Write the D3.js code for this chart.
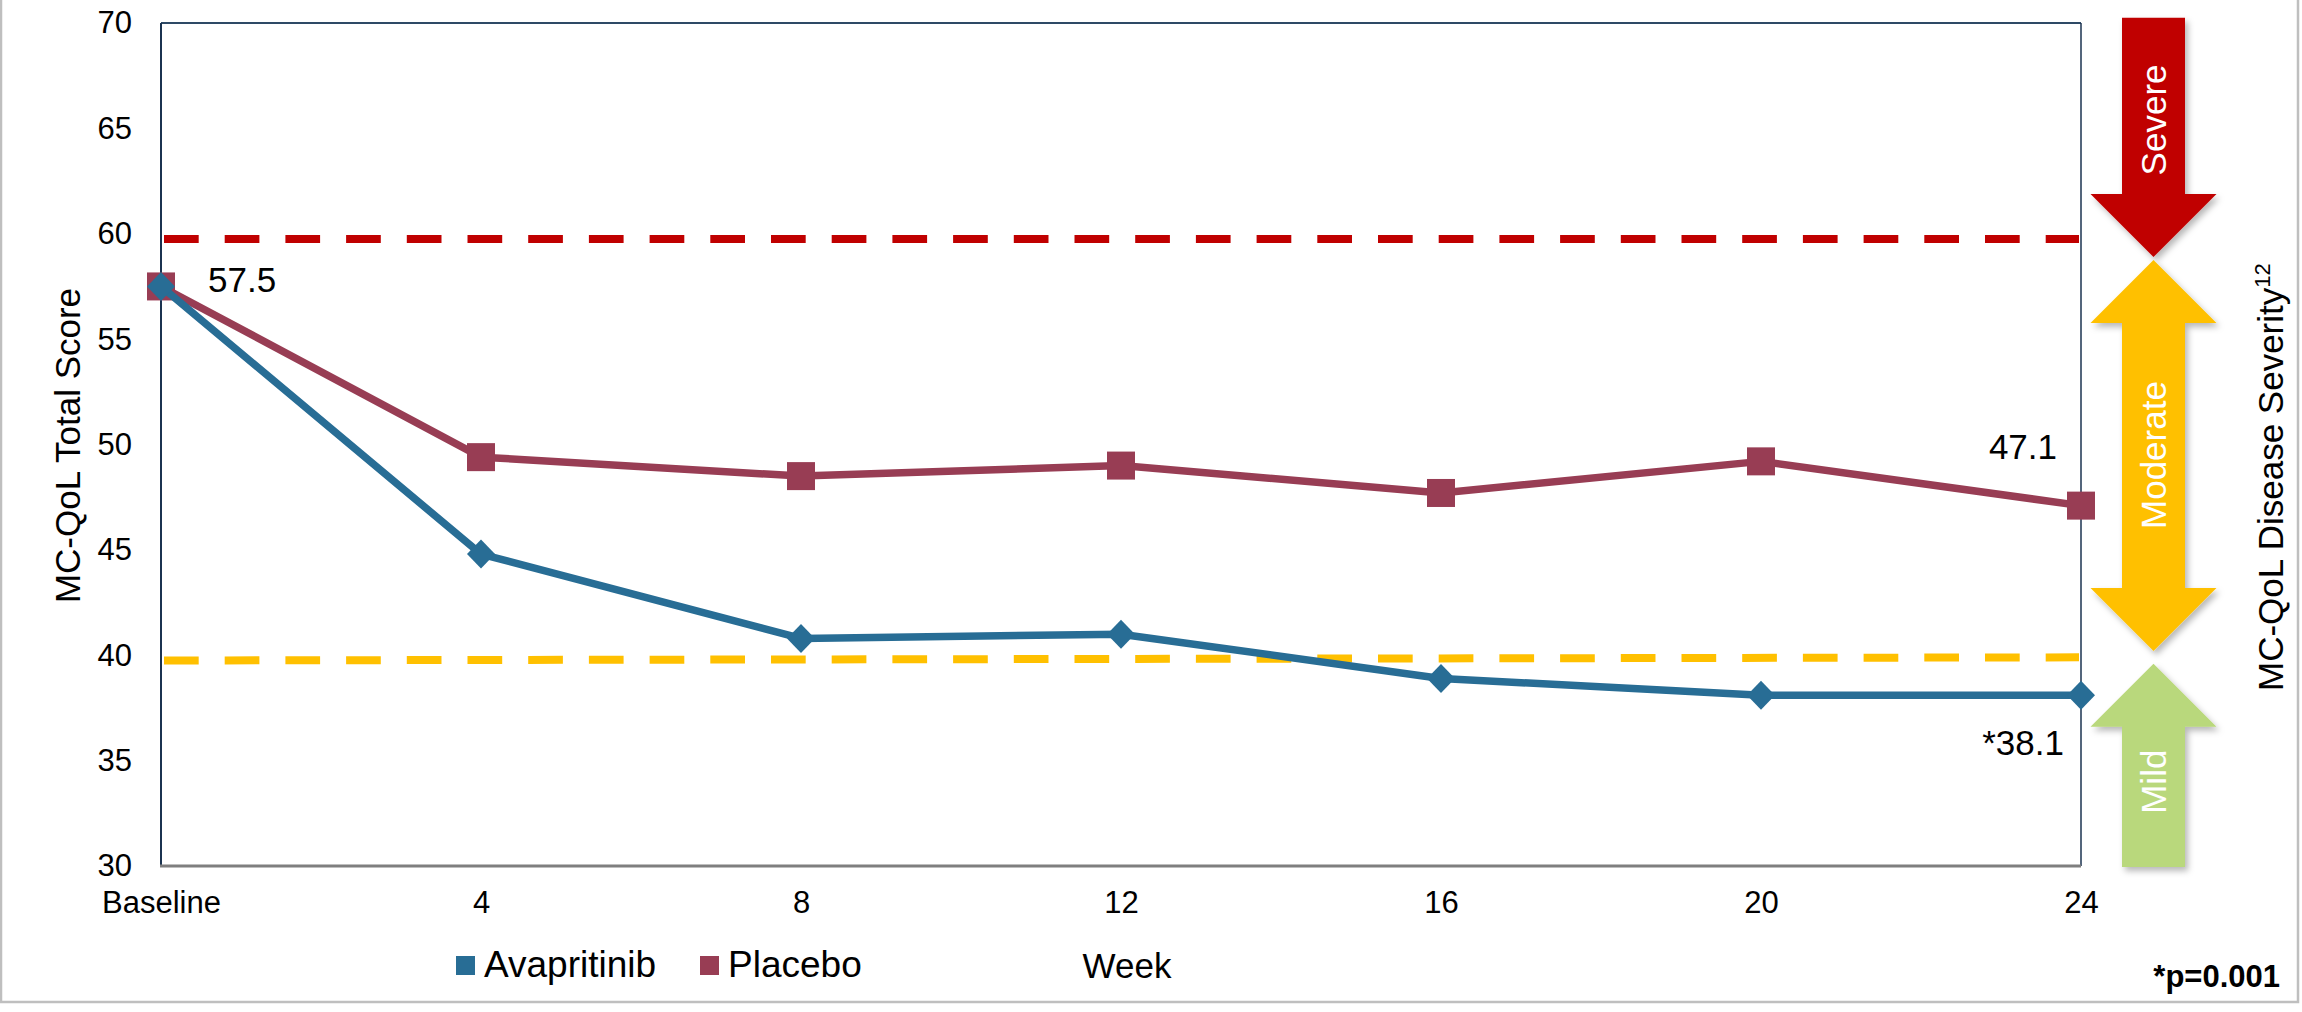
<!DOCTYPE html>
<html>
<head>
<meta charset="utf-8">
<script src="https://cdn.jsdelivr.net/npm/d3@7"></script>
<style>
  html, body { margin: 0; padding: 0; background: #ffffff; }
  svg { display: block; font-family: "Liberation Sans", Arial, sans-serif; }
</style>
</head>
<body>
<svg id="chart" width="2302" height="1012"></svg>
<script>
// Visit weeks and mean MC-QoL total scores per arm
const weeks = [0, 4, 8, 12, 16, 20, 24];
const weekLabels = ["Baseline", "4", "8", "12", "16", "20", "24"];
const avapritinib = [57.5, 44.8, 40.8, 41.0, 38.9, 38.1, 38.1];
const placebo = [57.5, 49.4, 48.5, 49.0, 47.7, 49.2, 47.1];
const yTicks = [30, 35, 40, 45, 50, 55, 60, 65, 70];

// Severity thresholds (score at left and right end of each dashed line)
const severeThreshold = [59.75, 59.75];
const mildThreshold = [39.75, 39.9];

// Severity band arrows: score extents and label position
const bandNames = ["Severe", "Moderate", "Mild"];
const bandTop = [70.25, 58.75, 39.6];
const bandBottom = [58.9, 40.2, 29.95];
const bandLabelAt = [65.4, 49.5, 34.0];
const bandHeads = [["down"], ["up", "down"], ["up"]];
const bandColors = ["#C00000", "#FFC000", "#B9D87B"];

const colAvap = "#286D95";
const colPlac = "#983D54";

const svg = d3.select("#chart");

const x = d3.scaleLinear().domain([0, 24]).range([161, 2081]);
const y = d3.scaleLinear().domain([30, 70]).range([866, 23]);

// outer frame
svg.append("rect")
  .attr("x", 1).attr("y", -4).attr("width", 2297).attr("height", 1006)
  .attr("fill", "none").attr("stroke", "#BFBFBF").attr("stroke-width", 2.5);

// plot frame
const frame = svg.append("g");
frame.append("line").attr("x1", x(0)).attr("x2", x(24)).attr("y1", y(70)).attr("y2", y(70))
  .attr("stroke", "#2E4A66").attr("stroke-width", 2);
frame.append("line").attr("x1", x(0)).attr("x2", x(0)).attr("y1", y(70)).attr("y2", y(30))
  .attr("stroke", "#1B3350").attr("stroke-width", 2);
frame.append("line").attr("x1", x(24)).attr("x2", x(24)).attr("y1", y(70)).attr("y2", y(30))
  .attr("stroke", "#1B3350").attr("stroke-width", 1.5);
frame.append("line").attr("x1", x(0) - 1).attr("x2", x(24)).attr("y1", y(30)).attr("y2", y(30))
  .attr("stroke", "#7F7F7F").attr("stroke-width", 3);

// axes
const yAxis = svg.append("g").attr("transform", `translate(${x(0)},0)`)
  .call(d3.axisLeft(y).tickValues(yTicks).tickSize(0).tickPadding(29));
yAxis.select(".domain").remove();
yAxis.selectAll("text").attr("font-size", 31).attr("fill", "#000")
  .attr("font-family", "Liberation Sans, Arial, sans-serif");

const xAxis = svg.append("g").attr("transform", `translate(0,${y(30)})`)
  .call(d3.axisBottom(x).tickValues(weeks).tickSize(0).tickPadding(25)
    .tickFormat((d, i) => weekLabels[i]));
xAxis.select(".domain").remove();
xAxis.selectAll("text").attr("font-size", 31).attr("fill", "#000")
  .attr("font-family", "Liberation Sans, Arial, sans-serif");

// threshold dashed lines
function threshold(vals, color) {
  svg.append("line")
    .attr("x1", x(0) + 3).attr("x2", x(24) - 2)
    .attr("y1", y(vals[0])).attr("y2", y(vals[1]))
    .attr("stroke", color).attr("stroke-width", 8)
    .attr("stroke-dasharray", "34.7 26");
}
threshold(severeThreshold, "#C00000");
threshold(mildThreshold, "#FFC000");

// series lines and markers
const line = d3.line().x((d, i) => x(weeks[i])).y(d => y(d));

svg.append("path").datum(placebo).attr("d", line)
  .attr("fill", "none").attr("stroke", colPlac).attr("stroke-width", 7.5)
  .attr("stroke-linejoin", "round");
svg.append("g").selectAll("rect").data(placebo).join("rect")
  .attr("x", (d, i) => x(weeks[i]) - 14).attr("y", d => y(d) - 14)
  .attr("width", 28).attr("height", 28).attr("fill", colPlac);

svg.append("path").datum(avapritinib).attr("d", line)
  .attr("fill", "none").attr("stroke", colAvap).attr("stroke-width", 7.5)
  .attr("stroke-linejoin", "round");
svg.append("g").selectAll("path").data(avapritinib).join("path")
  .attr("transform", (d, i) => `translate(${x(weeks[i])},${y(d)})`)
  .attr("d", "M0,-14.5L14,0L0,14.5L-14,0Z").attr("fill", colAvap);

// value labels
const lbl = svg.append("g").attr("font-size", 35).attr("fill", "#000");
lbl.append("text").attr("x", x(weeks[0]) + 47).attr("y", y(placebo[0]) + 6)
  .text(placebo[0].toFixed(1));
lbl.append("text").attr("text-anchor", "end")
  .attr("x", x(weeks[6]) - 24).attr("y", y(placebo[6]) - 47)
  .text(placebo[6].toFixed(1));
lbl.append("text").attr("text-anchor", "end")
  .attr("x", x(weeks[6]) - 17).attr("y", y(avapritinib[6]) + 60)
  .text("*" + avapritinib[6].toFixed(1));

// axis titles
svg.append("text").attr("transform", `translate(80,${(y(70) + y(30)) / 2 + 1}) rotate(-90)`)
  .attr("text-anchor", "middle").attr("font-size", 35).attr("fill", "#000")
  .text("MC-QoL Total Score");
svg.append("text").attr("x", 1127).attr("y", 978)
  .attr("text-anchor", "middle").attr("font-size", 35).attr("fill", "#000")
  .text("Week");

const sev = svg.append("text").attr("transform", "translate(2283,691) rotate(-90)")
  .attr("font-size", 35).attr("fill", "#000");
sev.append("tspan").text("MC-QoL Disease Severity");
sev.append("tspan").attr("font-size", 22).attr("dy", -13).text("12");

// legend
const legendItems = [["Avapritinib", colAvap, 456], ["Placebo", colPlac, 700]];
const leg = svg.append("g");
legendItems.forEach(([name, col, lx]) => {
  leg.append("rect").attr("x", lx).attr("y", 956).attr("width", 19).attr("height", 19).attr("fill", col);
  leg.append("text").attr("x", lx + 28).attr("y", 977).attr("font-size", 37).attr("fill", "#000").text(name);
});

// p-value footnote
svg.append("text").attr("x", 2280).attr("y", 987).attr("text-anchor", "end")
  .attr("font-size", 31).attr("font-weight", "bold").attr("fill", "#000")
  .text("*p=0.001");

// severity arrows
const defs = svg.append("defs");
const f = defs.append("filter").attr("id", "shadow")
  .attr("x", "-20%").attr("y", "-20%").attr("width", "150%").attr("height", "150%");
f.append("feDropShadow").attr("dx", 3).attr("dy", 4).attr("stdDeviation", 3)
  .attr("flood-color", "#000").attr("flood-opacity", 0.28);

const ax = 2153.5, shaftHalf = 31.5, headHalf = 63, headLen = 63;
bandNames.forEach((name, i) => {
  const top = y(bandTop[i]), bot = y(bandBottom[i]);
  const up = bandHeads[i].includes("up"), down = bandHeads[i].includes("down");
  const p = d3.path();
  if (up) {
    p.moveTo(ax, top);
    p.lineTo(ax + headHalf, top + headLen);
    p.lineTo(ax + shaftHalf, top + headLen);
  } else {
    p.moveTo(ax + shaftHalf, top);
  }
  if (down) {
    p.lineTo(ax + shaftHalf, bot - headLen);
    p.lineTo(ax + headHalf, bot - headLen);
    p.lineTo(ax, bot);
    p.lineTo(ax - headHalf, bot - headLen);
    p.lineTo(ax - shaftHalf, bot - headLen);
  } else {
    p.lineTo(ax + shaftHalf, bot);
    p.lineTo(ax - shaftHalf, bot);
  }
  if (up) {
    p.lineTo(ax - shaftHalf, top + headLen);
    p.lineTo(ax - headHalf, top + headLen);
  } else {
    p.lineTo(ax - shaftHalf, top);
  }
  p.closePath();
  svg.append("path").attr("d", p.toString()).attr("fill", bandColors[i])
    .attr("filter", "url(#shadow)");
  svg.append("text")
    .attr("transform", `translate(${ax + 12},${y(bandLabelAt[i])}) rotate(-90)`)
    .attr("text-anchor", "middle").attr("font-size", 35).attr("fill", "#ffffff")
    .text(name);
});
</script>
</body>
</html>
